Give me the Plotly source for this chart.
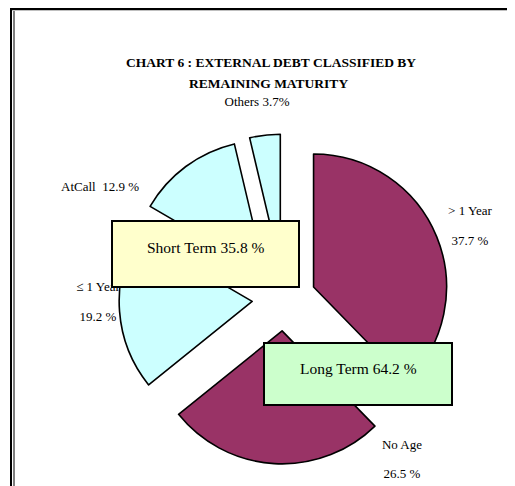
import plotly.graph_objects as go

# remaining maturity shares (per cent)
names = ["> 1 Year", "No Age", "\u2264 1 Year", "AtCall", "Others"]
shares = [37.7, 26.5, 19.2, 12.9, 3.7]
colors = ["#993366", "#993366", "#CCFFFF", "#CCFFFF", "#CCFFFF"]

# grouped totals
groups = ["Short Term", "Long Term"]
group_shares = [35.8, 64.2]
group_colors = ["#FFFFCC", "#CCFFCC"]

# window is 515x486, the page body adds an 8px offset
WIN_W, WIN_H, OFF = 515, 486, 8
W, H = WIN_W - OFF, WIN_H - OFF
serif = "Liberation Serif, Times New Roman, serif"

fig = go.Figure()

# slice labels sit under the pie (cartesian layer is drawn first)
lab_text = [
    "> 1 Year", "%.1f %%" % shares[0],
    "No Age", "%.1f %%" % shares[1],
    "\u2264 1 Year", "%.1f %%" % shares[2],
    "AtCall  %.1f %%" % shares[3],
    "Others %.1f%%" % shares[4],
]
lab_x = [470, 470, 402, 402, 98, 98, 100, 257]
lab_y = [212, 242, 446, 475, 288, 318, 188, 103]
fig.add_trace(go.Scatter(
    x=lab_x, y=lab_y, text=lab_text, mode="text",
    textfont=dict(family=serif, size=13, color="black"),
    hoverinfo="skip", showlegend=False,
))

# pie centre (284, 299), radius 133, pull 0.24
cx, cy, r, pull = 284, 299, 133, 0.24
half = r * (1 + pull)
fig.add_trace(go.Pie(
    labels=names, values=shares, sort=False,
    direction="clockwise", rotation=0,
    pull=[pull] * 5,
    marker=dict(colors=colors, line=dict(color="black", width=1.6)),
    textinfo="none", hoverinfo="label+percent",
    domain=dict(x=[(cx - half - OFF) / W, (cx + half - OFF) / W],
                y=[1 - (cy + half - OFF) / H, 1 - (cy - half - OFF) / H]),
    showlegend=False,
))

shapes = [
    # frame: thick top rule, double rule on the left
    dict(type="line", x0=10, x1=WIN_W, y0=9, y1=9, line=dict(color="black", width=2.5)),
    dict(type="line", x0=11, x1=11, y0=8, y1=WIN_H, line=dict(color="black", width=2)),
    dict(type="line", x0=14, x1=14, y0=11, y1=WIN_H, line=dict(color="black", width=1)),
]
boxes = [(112, 299, 221, 287, 247), (264, 452, 343, 405, 368)]
annotations = [
    dict(x=271, y=62, text="<b>CHART 6 : EXTERNAL DEBT CLASSIFIED BY</b>"),
    dict(x=268, y=83, text="<b>REMAINING MATURITY</b>"),
]
for (x0, x1, y0, y1, ty), g, v, c in zip(boxes, groups, group_shares, group_colors):
    shapes.append(dict(type="rect", x0=x0, x1=x1, y0=y0, y1=y1,
                       fillcolor=c, line=dict(color="black", width=2)))
    annotations.append(dict(x=(x0 + x1) / 2, y=ty, text="%s %.1f %%" % (g, v),
                            font=dict(family=serif, size=15.5, color="black")))
for a in annotations:
    a.update(xref="x", yref="y", showarrow=False)
    a.setdefault("font", dict(family=serif, size=13.5, color="black"))

fig.update_layout(
    width=W, height=H,
    margin=dict(l=0, r=0, t=0, b=0),
    paper_bgcolor="white", plot_bgcolor="white",
    xaxis=dict(range=[OFF, WIN_W], visible=False, fixedrange=True),
    yaxis=dict(range=[WIN_H, OFF], visible=False, fixedrange=True),
    shapes=[dict(s, xref="x", yref="y") for s in shapes],
    annotations=annotations,
)

fig.write_html("out.html")
